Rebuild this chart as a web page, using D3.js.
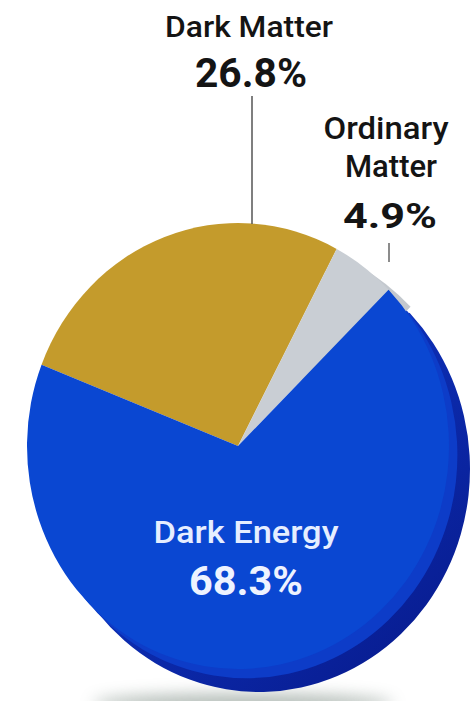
<!DOCTYPE html>
<html>
<head>
<meta charset="utf-8">
<script src="https://cdn.jsdelivr.net/npm/d3@7"></script>
<style>
  html, body { margin: 0; padding: 0; background: #ffffff; }
  svg { display: block; }
</style>
</head>
<body>
<svg id="chart" width="473" height="701"></svg>
<script>
// ---- data ----
const categories = ["Dark Matter", "Ordinary Matter", "Dark Energy"];
const values = [26.8, 4.9, 68.3];
const valueLabels = ["26.8%", "4.9%", "68.3%"];
const colors = ["#c49b2c", "#c9ced4", "#0a47d2"];
const sideColors = ["#9c7a1e", "#c3c8ce", "#0a1f9c"];

// ---- layout ----
const W = 473, H = 701;
const cx = 238, cy = 446, rx = 211, ry = 223;
const depth = [21, 23];
const startDeg = -68.6;

const svg = d3.select("#chart");
const defs = svg.append("defs");

const blur = defs.append("filter").attr("id", "blur").attr("x", "-50%").attr("y", "-100%").attr("width", "200%").attr("height", "300%");
blur.append("feGaussianBlur").attr("stdDeviation", 8);

const sideGrad = defs.append("linearGradient").attr("id", "sideGrad")
  .attr("x1", "0").attr("y1", "0").attr("x2", "1").attr("y2", "1");
sideGrad.append("stop").attr("offset", "0%").attr("stop-color", "#1448d8");
sideGrad.append("stop").attr("offset", "50%").attr("stop-color", "#0c2cb0");
sideGrad.append("stop").attr("offset", "100%").attr("stop-color", "#071888");

// ground shadow
svg.append("ellipse")
  .attr("cx", cx + 5).attr("cy", H + 3)
  .attr("rx", 150).attr("ry", 10)
  .attr("fill", "#8f9c94").attr("opacity", 0.7)
  .attr("filter", "url(#blur)");

const pie = d3.pie().sort(null).value(d => d)
  .startAngle(startDeg * Math.PI / 180)
  .endAngle(startDeg * Math.PI / 180 + 2 * Math.PI);
const arcs = pie(values);
const arc = d3.arc().innerRadius(0).outerRadius(rx);
const k = ry / rx;

// sides (extrusion)
const sideG = svg.append("g");
sideG.append("path")
  .attr("transform", `translate(${cx + depth[0]},${cy + depth[1]}) scale(1,${k})`)
  .attr("d", arc(arcs[2]))
  .attr("fill", "url(#sideGrad)");
// intermediate band for smooth look
sideG.append("path")
  .attr("transform", `translate(${cx + depth[0] * 0.4},${cy + depth[1] * 0.4}) scale(1,${k})`)
  .attr("d", arc(arcs[2]))
  .attr("fill", "#0d3cc8");
// gray slice side (visible beside the blue corner)
sideG.append("path")
  .attr("transform", `translate(${cx + 22},${cy + 17}) scale(1,${k})`)
  .attr("d", arc(arcs[1]))
  .attr("fill", sideColors[1]);

// top faces
const topG = svg.append("g").attr("transform", `translate(${cx},${cy}) scale(1,${k})`);
topG.selectAll("path")
  .data(arcs)
  .join("path")
  .attr("d", arc)
  .attr("fill", (d, i) => colors[i]);

// leader lines
svg.append("line")
  .attr("x1", 252).attr("x2", 252).attr("y1", 96).attr("y2", 224)
  .attr("stroke", "#555").attr("stroke-width", 1.5);
svg.append("line")
  .attr("x1", 389).attr("x2", 389).attr("y1", 243).attr("y2", 262)
  .attr("stroke", "#666").attr("stroke-width", 1.5);

// labels
function label(text, x, y, size, weight, width, color) {
  svg.append("text")
    .attr("x", x).attr("y", y)
    .attr("text-anchor", "middle")
    .attr("font-family", "Roboto, 'DejaVu Sans', sans-serif")
    .attr("font-size", size)
    .attr("font-weight", weight)
    .attr("fill", color)
    .attr("textLength", width)
    .attr("lengthAdjust", "spacingAndGlyphs")
    .text(text);
}
const dark = "#141414";
label(categories[0], 249, 37, 30, 500, 168, dark);
label(valueLabels[0], 251, 87, 40, 700, 112, dark);
label("Ordinary", 386, 139, 31, 500, 125, dark);
label("Matter", 391, 177, 31, 500, 92, dark);
label(valueLabels[1], 390, 228, 35, 700, 94, dark);
label(categories[2], 246, 543, 32, 500, 185, "#e6eeff");
label(valueLabels[2], 246, 595, 40, 700, 114, "#eef3ff");
</script>
</body>
</html>
